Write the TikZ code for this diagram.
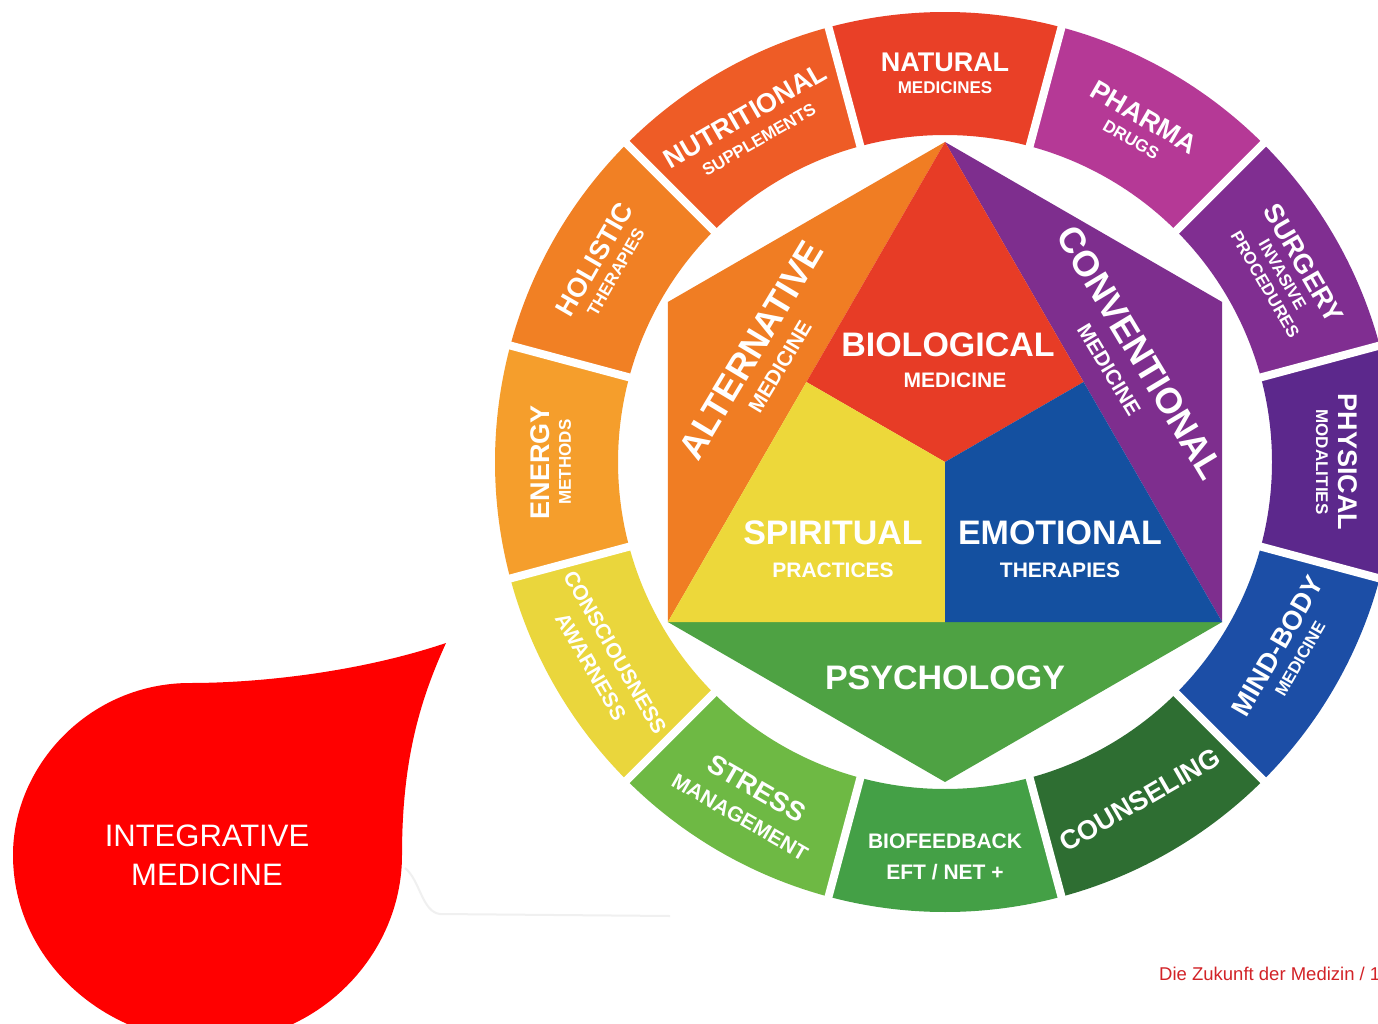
\documentclass[tikz,border=0pt]{standalone}
\usepackage{fontspec}
\setmainfont{Liberation Sans}
\usepackage{tikz}
\usetikzlibrary{calc}
\definecolor{natural}{RGB}{233,64,39}
\definecolor{pharma}{RGB}{181,57,150}
\definecolor{surgery}{RGB}{128,46,145}
\definecolor{physical}{RGB}{92,40,140}
\definecolor{mindbody}{RGB}{28,78,166}
\definecolor{counseling}{RGB}{46,110,50}
\definecolor{biofeedback}{RGB}{68,160,70}
\definecolor{stress}{RGB}{110,185,68}
\definecolor{consciousness}{RGB}{234,214,60}
\definecolor{energy}{RGB}{245,158,44}
\definecolor{holistic}{RGB}{241,128,36}
\definecolor{nutritional}{RGB}{238,92,38}
\definecolor{biological}{RGB}{231,60,38}
\definecolor{alternative}{RGB}{240,125,35}
\definecolor{spiritual}{RGB}{237,216,58}
\definecolor{emotional}{RGB}{20,80,160}
\definecolor{conventional}{RGB}{126,46,142}
\definecolor{psychology}{RGB}{78,162,67}
\definecolor{dropred}{RGB}{255,0,0}
\definecolor{footred}{RGB}{210,35,40}

\begin{document}
\begin{tikzpicture}[
  x=1pt, y=1pt,
  ringmain/.style={text=white, inner sep=0pt, font=\bfseries\fontsize{27}{27}\selectfont},
  ringsub/.style={text=white, inner sep=0pt, font=\bfseries\fontsize{17}{17}\selectfont},
  ringmid/.style={text=white, inner sep=0pt, font=\bfseries\fontsize{21}{21}\selectfont},
  hexmain/.style={text=white, inner sep=0pt, font=\bfseries\fontsize{34}{34}\selectfont},
  hexbig/.style={text=white, inner sep=0pt, font=\bfseries\fontsize{36}{36}\selectfont},
  hexsub/.style={text=white, inner sep=0pt, font=\bfseries\fontsize{21}{21}\selectfont},
  gap/.style={draw=white, line width=8pt},
  droptext/.style={text=white, align=center, inner sep=0pt, font=\fontsize{31}{39}\selectfont}
]
\useasboundingbox (0,-1024) rectangle (1378,0);
\fill[white] (0,-1024) rectangle (1378,0);

\begin{scope}[shift={(945,-462)}]
% outer ring
\fill[natural] (75:450) arc[start angle=75, end angle=105, radius=450] -- (105:327) arc[start angle=105, end angle=75, radius=327] -- cycle;
\fill[pharma] (45:450) arc[start angle=45, end angle=75, radius=450] -- (75:327) arc[start angle=75, end angle=45, radius=327] -- cycle;
\fill[surgery] (15:450) arc[start angle=15, end angle=45, radius=450] -- (45:327) arc[start angle=45, end angle=15, radius=327] -- cycle;
\fill[physical] (-15:450) arc[start angle=-15, end angle=15, radius=450] -- (15:327) arc[start angle=15, end angle=-15, radius=327] -- cycle;
\fill[mindbody] (-45:450) arc[start angle=-45, end angle=-15, radius=450] -- (-15:327) arc[start angle=-15, end angle=-45, radius=327] -- cycle;
\fill[counseling] (-75:450) arc[start angle=-75, end angle=-45, radius=450] -- (-45:327) arc[start angle=-45, end angle=-75, radius=327] -- cycle;
\fill[biofeedback] (-105:450) arc[start angle=-105, end angle=-75, radius=450] -- (-75:327) arc[start angle=-75, end angle=-105, radius=327] -- cycle;
\fill[stress] (-135:450) arc[start angle=-135, end angle=-105, radius=450] -- (-105:327) arc[start angle=-105, end angle=-135, radius=327] -- cycle;
\fill[consciousness] (-165:450) arc[start angle=-165, end angle=-135, radius=450] -- (-135:327) arc[start angle=-135, end angle=-165, radius=327] -- cycle;
\fill[energy] (165:450) arc[start angle=165, end angle=195, radius=450] -- (195:327) arc[start angle=195, end angle=165, radius=327] -- cycle;
\fill[holistic] (135:450) arc[start angle=135, end angle=165, radius=450] -- (165:327) arc[start angle=165, end angle=135, radius=327] -- cycle;
\fill[nutritional] (105:450) arc[start angle=105, end angle=135, radius=450] -- (135:327) arc[start angle=135, end angle=105, radius=327] -- cycle;
\draw[gap] (15:320) -- (15:460) (45:320) -- (45:460) (75:320) -- (75:460) (105:320) -- (105:460)
  (135:320) -- (135:460) (165:320) -- (165:460) (195:320) -- (195:460) (225:320) -- (225:460)
  (255:320) -- (255:460) (285:320) -- (285:460) (315:320) -- (315:460) (345:320) -- (345:460);

% inner hexagon
\coordinate (top) at (90:320);
\coordinate (ul) at (150:320);
\coordinate (ll) at (210:320);
\coordinate (bot) at (270:320);
\coordinate (lr) at (330:320);
\coordinate (ur) at (30:320);
\coordinate (ctr) at (0,0);
\coordinate (lm) at ($(top)!0.5!(ll)$);
\coordinate (rm) at ($(top)!0.5!(lr)$);
\coordinate (bm) at ($(ll)!0.5!(lr)$);
\fill[alternative] (top) -- (ul) -- (ll) -- cycle;
\fill[conventional] (top) -- (ur) -- (lr) -- cycle;
\fill[psychology] (ll) -- (bot) -- (lr) -- cycle;
\fill[biological] (top) -- (lm) -- (ctr) -- (rm) -- cycle;
\fill[spiritual] (lm) -- (ll) -- (bm) -- (ctr) -- cycle;
\fill[emotional] (ctr) -- (bm) -- (lr) -- (rm) -- cycle;

% ring labels
\node[ringmain] (natural) at (90:400) {NATURAL};
\node[ringsub] (naturalsub) at (90:374) {MEDICINES};
\node[ringmain, rotate=-30] (pharma) at (60:398) {PHARMA};
\node[ringsub, rotate=-30] (pharmasub) at (60:372) {DRUGS};
\node[ringmain, rotate=-60] (surgery) at (29:410) {SURGERY};
\node[ringsub, rotate=-60] (surgerysub) at (29:386) {INVASIVE};
\node[ringsub, rotate=-60] (surgerysubb) at (29:366) {PROCEDURES};
\node[ringmain, rotate=-90] (physical) at (0:403) {PHYSICAL};
\node[ringsub, rotate=-90] (physicalsub) at (0:377) {MODALITIES};
\node[ringmain, rotate=60] (mindbody) at (-29:380) {MIND-BODY};
\node[ringsub, rotate=60] (mindbodysub) at (-29:406) {MEDICINE};
\node[ringmain, rotate=30] (counseling) at (-60:390) {COUNSELING};
\node[ringmid] (biofeedback) at (-90:379) {BIOFEEDBACK};
\node[ringmid] (biofeedbacksub) at (-90:410) {EFT / NET +};
\node[ringmain, rotate=-30] (stress) at (-120:377) {STRESS};
\node[ringmid, rotate=-30] (stresssub) at (-120:410) {MANAGEMENT};
\node[ringmid, rotate=-60] (consciousness) at (-150:381) {CONSCIOUSNESS};
\node[ringmid, rotate=-60] (awareness) at (-150:409) {AWARNESS};
\node[ringmain, rotate=90] (energy) at (180:405) {ENERGY};
\node[ringsub, rotate=90] (energysub) at (180:380) {METHODS};
\node[ringmain, rotate=60] (holistic) at (150:405) {HOLISTIC};
\node[ringsub, rotate=60] (holisticsub) at (150:380) {THERAPIES};
\node[ringmain, rotate=30] (nutritional) at (120:400) {NUTRITIONAL};
\node[ringsub, rotate=30] (nutritionalsub) at (120:372) {SUPPLEMENTS};

% hexagon labels
\node[hexmain] (biologicalt) at (3,117) {BIOLOGICAL};
\node[hexsub] (biologicalsub) at (10,82) {MEDICINE};
\node[hexmain] (spiritualt) at (-112,-71) {SPIRITUAL};
\node[hexsub] (spiritualsub) at (-112,-108) {PRACTICES};
\node[hexmain] (emotionalt) at (115,-71) {EMOTIONAL};
\node[hexsub] (emotionalsub) at (115,-108) {THERAPIES};
\node[hexmain] (psychologyt) at (0,-216) {PSYCHOLOGY};
\node[hexbig, rotate=59] (alternativet) at (-194,112) {ALTERNATIVE};
\node[hexsub, rotate=59] (alternativesub) at (-165,95) {MEDICINE};
\node[hexbig, rotate=-59] (conventionalt) at (195,109) {CONVENTIONAL};
\node[hexsub, rotate=-59] (conventionalsub) at (164,92) {MEDICINE};
\end{scope}

% drop
\draw[black!6, line width=2pt] (405,-868) .. controls (420,-880) and (422,-912) .. (440,-914) -- (670,-916);
\fill[dropred] (446,-643) .. controls (360,-672) and (260,-683) .. (190,-683)
  .. controls (90,-683) and (13,-765) .. (13,-855)
  .. controls (13,-960) and (105,-1042) .. (212,-1042)
  .. controls (318,-1042) and (402,-955) .. (402,-855)
  .. controls (402,-760) and (420,-700) .. (446,-643) -- cycle;
\node[droptext] (integrative) at (207,-855.5) {INTEGRATIVE\\MEDICINE};

\node[anchor=base west, text=footred, inner sep=0pt, font=\fontsize{18.5}{18.5}\selectfont] (footer) at (1159,-980) {Die Zukunft der Medizin / 1};
\end{tikzpicture}
\end{document}
